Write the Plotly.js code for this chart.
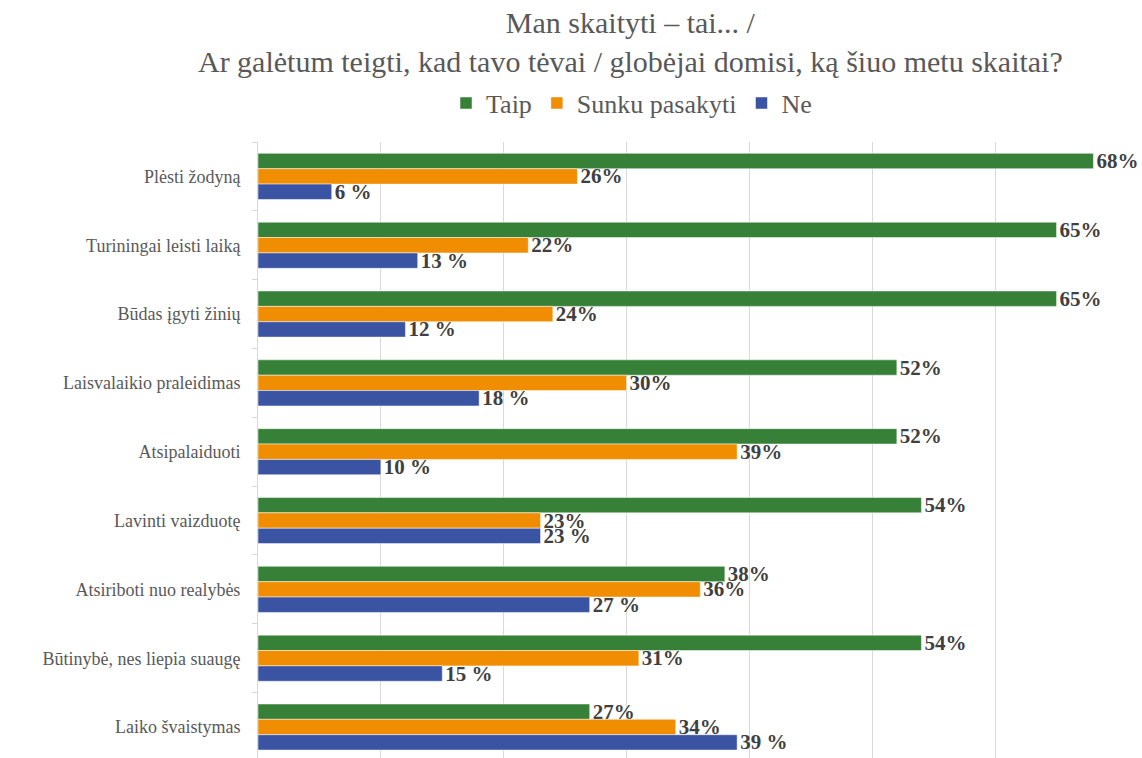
<!DOCTYPE html>
<html>
<head>
<meta charset="utf-8">
<script src="https://cdn.plot.ly/plotly-3.0.1.min.js"></script>
<style>html,body{margin:0;padding:0;background:#fff;}#chart{width:1142px;height:758px;}</style>
</head>
<body>
<div id="chart"></div>
<script>
const categories = [
  "Plėsti žodyną",
  "Turiningai leisti laiką",
  "Būdas įgyti žinių",
  "Laisvalaikio praleidimas",
  "Atsipalaiduoti",
  "Lavinti vaizduotę",
  "Atsiriboti nuo realybės",
  "Būtinybė, nes liepia suaugę",
  "Laiko švaistymas"
];
const taip = [68, 65, 65, 52, 52, 54, 38, 54, 27];
const sunku = [26, 22, 24, 30, 39, 23, 36, 31, 34];
const ne = [6, 13, 12, 18, 10, 23, 27, 15, 39];
const seriesNames = ["Taip", "Sunku pasakyti", "Ne"];
const titleText = "Man skaityti – tai... /<br>Ar galėtum teigti, kad tavo tėvai / globėjai domisi, ką šiuo metu skaitai?";

const serif = "Liberation Serif";
const labelFont = {family: serif, size: 21, color: "#404040", weight: "bold"};

function mk(name, vals, color, tmpl) {
  return {
    type: "bar", orientation: "h", name: name,
    x: vals, y: categories,
    marker: {color: color, line: {color: "#ffffff", width: 0.5}},
    text: vals.map(v => tmpl(v)),
    textposition: "outside",
    constraintext: "none",
    textfont: labelFont,
    cliponaxis: false,
    hoverinfo: "skip"
  };
}

const data = [
  mk(seriesNames[0], taip, "#378037", v => v + "%"),
  mk(seriesNames[1], sunku, "#F08D00", v => v + "%"),
  mk(seriesNames[2], ne, "#3A53A2", v => v + " %")
];

const layout = {
  width: 1142, height: 758,
  margin: {l: 258, r: 24, t: 142, b: 0},
  paper_bgcolor: "#fff", plot_bgcolor: "#fff",
  barmode: "group", bargap: 0.33, bargroupgap: 0,
  font: {family: serif, color: "#595959"},
  title: {
    text: titleText,
    font: {family: serif, size: 30, color: "#595959"},
    xref: "container", x: 0.552, xanchor: "center",
    yref: "container", y: 0.957, yanchor: "top"
  },
  showlegend: true,
  legend: {
    orientation: "h",
    xref: "container", yref: "container",
    x: 0.553, xanchor: "center",
    y: 0.864, yanchor: "middle",
    font: {family: serif, size: 26, color: "#595959"},
    itemwidth: 30,
    traceorder: "normal"
  },
  xaxis: {
    range: [0, 70], dtick: 10, tick0: 0,
    showgrid: true, gridcolor: "#d9d9d9", gridwidth: 1,
    zeroline: false, showticklabels: false, ticks: "",
    showline: false
  },
  yaxis: {
    type: "category",
    range: [8.45, -0.5],
    showgrid: false, zeroline: false,
    showline: true, linecolor: "#d9d9d9", linewidth: 1,
    ticks: "outside", tickson: "boundaries", ticklen: 5, tickcolor: "#d9d9d9",
    tickfont: {family: serif, size: 18, color: "#595959"},
    ticklabelstandoff: 13
  }
};

Plotly.newPlot("chart", data, layout, {displayModeBar: false, staticPlot: true});
</script>
</body>
</html>
